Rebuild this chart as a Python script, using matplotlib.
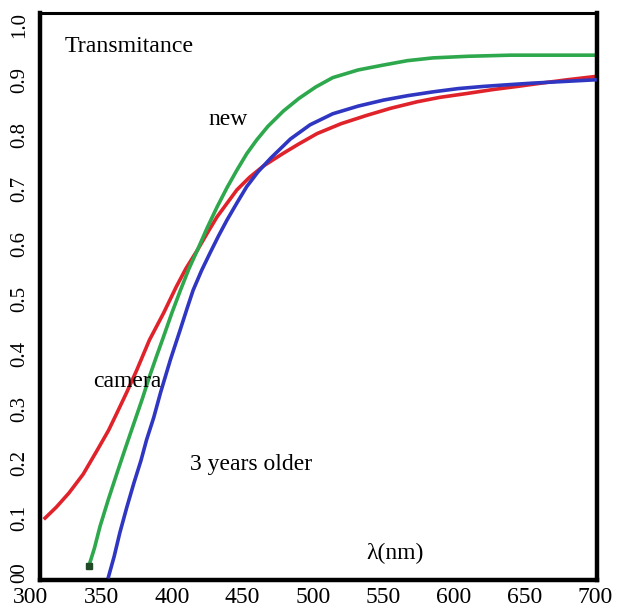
import matplotlib
matplotlib.use("Agg")
import matplotlib.pyplot as plt
from matplotlib.transforms import blended_transform_factory

plt.rcParams["font.family"] = ["Liberation Serif", "DejaVu Serif"]

# Transmittance spectra (wavelength in nm, transmittance 0..1)
camera_wl = [310, 318, 327, 337, 347, 355, 361, 368, 375, 384, 394, 403, 410, 418,
             425, 432, 440, 446, 455, 465, 479, 490, 503, 520, 538, 555, 574, 590,
             609, 627, 645, 662, 680, 700]
camera_t = [0.100, 0.120, 0.146, 0.180, 0.224, 0.260, 0.292, 0.330, 0.370, 0.425,
            0.474, 0.522, 0.556, 0.589, 0.620, 0.650, 0.678, 0.699, 0.722, 0.743,
            0.766, 0.783, 0.802, 0.820, 0.835, 0.848, 0.860, 0.868, 0.875, 0.882,
            0.888, 0.894, 0.900, 0.906]

older_wl = [355, 359, 363, 368, 373, 378, 382, 387, 392, 399, 406, 411, 415, 421,
            427, 433, 439, 446, 453, 461, 470, 484, 498, 514, 532, 550, 567, 585,
            603, 621, 638, 656, 678, 700]
older_t = [-0.007, 0.030, 0.073, 0.120, 0.164, 0.205, 0.243, 0.283, 0.330, 0.390,
           0.445, 0.485, 0.516, 0.552, 0.584, 0.615, 0.644, 0.675, 0.705, 0.732,
           0.757, 0.792, 0.818, 0.838, 0.852, 0.863, 0.871, 0.878, 0.884, 0.888,
           0.891, 0.894, 0.897, 0.900]

new_wl = [341, 345, 349, 355, 361, 367, 373, 379, 384, 389, 394, 400, 406, 412,
          418, 425, 432, 439, 446, 453, 460, 468, 479, 490, 502, 514, 532, 550,
          567, 585, 610, 640, 670, 700]
new_t = [0.012, 0.045, 0.085, 0.135, 0.182, 0.228, 0.273, 0.318, 0.358, 0.395,
         0.431, 0.475, 0.516, 0.555, 0.589, 0.630, 0.668, 0.703, 0.735, 0.765,
         0.790, 0.815, 0.843, 0.866, 0.887, 0.904, 0.918, 0.927, 0.935, 0.940,
         0.943, 0.945, 0.945, 0.945]

x_ticks = [300, 350, 400, 450, 500, 550, 600, 650, 700]
y_ticks = [0.0, 0.1, 0.2, 0.3, 0.4, 0.5, 0.6, 0.7, 0.8, 0.9, 1.0]
y_tick_labels = ["00", "0.1", "0.2", "0.3", "0.4", "0.5", "0.6", "0.7", "0.8", "0.9", "1.0"]

fig = plt.figure(figsize=(6.18, 6.07), dpi=100)
ax = fig.add_axes([0.0647, 0.0445, 0.9013, 0.9341])

red = "#e0232b"
green = "#2ea84c"
blue = "#2f36c2"
lw = 2.6

ax.plot(camera_wl, camera_t, color=red, lw=lw, zorder=2)
ax.plot(older_wl, older_t, color=blue, lw=lw, zorder=3)
ax.plot(new_wl, new_t, color=green, lw=lw, zorder=2)
ax.plot(new_wl[0], new_t[0], marker="s", ms=5, color="#1f4a25", zorder=4)

ax.set_xlim(306.4, 701.4)
ax.set_ylim(-0.013, 1.022)

for side in ["left", "bottom", "right"]:
    ax.spines[side].set_linewidth(3.2)
ax.spines["top"].set_linewidth(2.2)

ax.set_xticks([])
ax.set_yticks([])

# tick labels placed as text so the 300 label can sit left of the frame
xtr = blended_transform_factory(ax.transData, ax.transAxes)
for xv in x_ticks:
    ax.text(xv, -0.012, str(xv), transform=xtr, ha="center", va="top",
            fontsize=17, clip_on=False)
ytr = blended_transform_factory(ax.transAxes, ax.transData)
for yv, lab in zip(y_ticks, y_tick_labels):
    ax.text(-0.036, yv, lab, transform=ytr, ha="center", va="center",
            rotation=90, fontsize=15, clip_on=False)

ax.text(324, 0.96, "Transmitance", fontsize=17.2, va="center", ha="left", zorder=5)
ax.text(425.5, 0.827, "new", fontsize=17, va="center", ha="left", zorder=5)
ax.text(344, 0.35, "camera", fontsize=17, va="center", ha="left", zorder=5)
ax.text(413, 0.197, "3 years older", fontsize=17, va="center", ha="left", zorder=5)
ax.text(538, 0.036, "λ(nm)", fontsize=17, va="center", ha="left", zorder=5)

fig.savefig("out.png", dpi=100)
